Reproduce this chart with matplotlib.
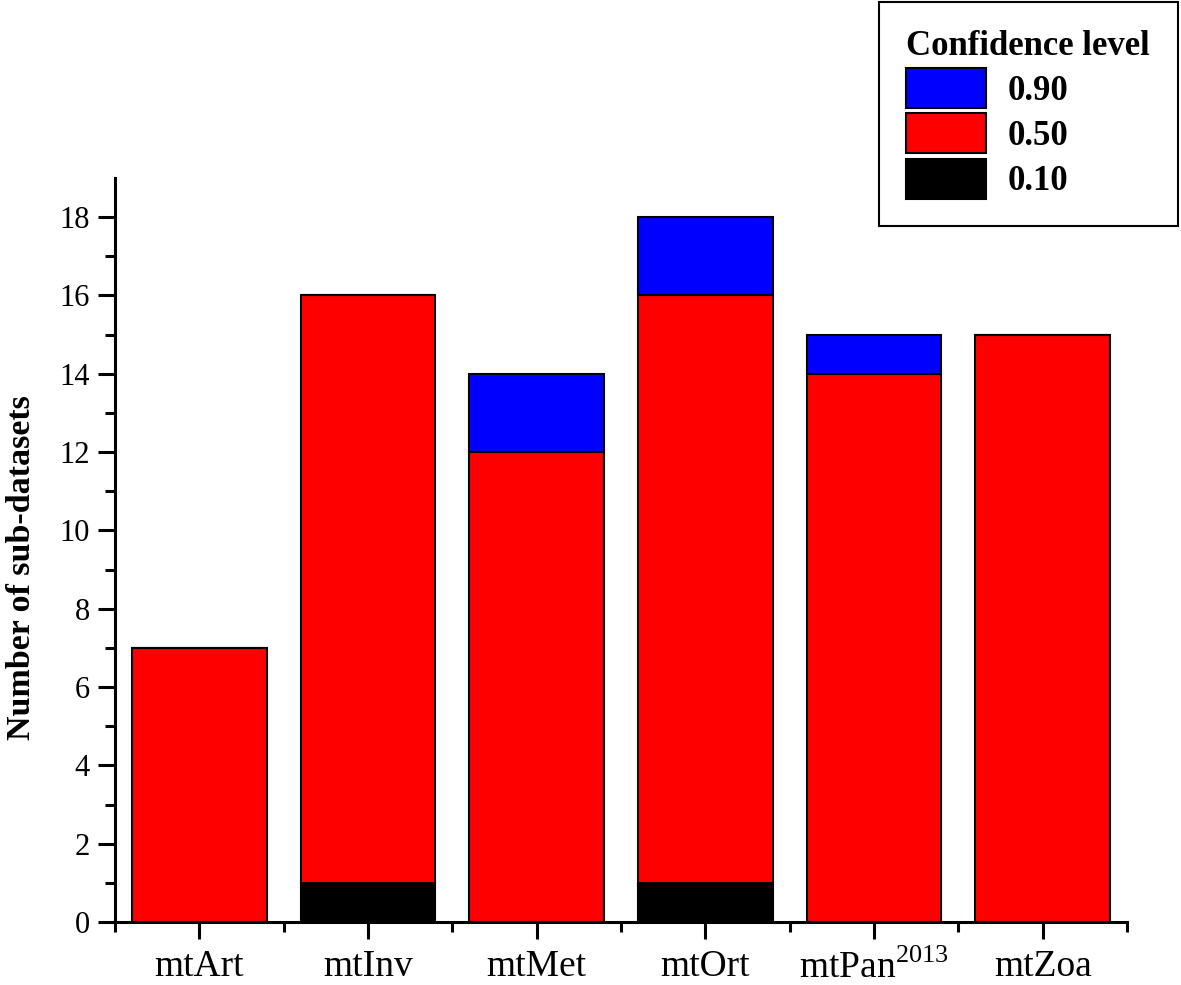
import numpy as np
import matplotlib.pyplot as plt

plt.rcParams['font.family'] = ['Liberation Serif', 'DejaVu Serif']
plt.rcParams['mathtext.fontset'] = 'custom'
plt.rcParams['mathtext.rm'] = 'Liberation Serif'

# ---------------------------------------------------------------------
# data
# ---------------------------------------------------------------------
categories = ['mtArt', 'mtInv', 'mtMet', 'mtOrt', 'mtPan$^{2013}$', 'mtZoa']
level_010 = [0, 1, 0, 1, 0, 0]      # black segment
level_050 = [7, 15, 12, 15, 14, 15] # red segment
level_090 = [0, 0, 2, 2, 1, 0]      # blue segment
y_ticks = [0, 2, 4, 6, 8, 10, 12, 14, 16, 18]

fig = plt.figure(figsize=(11.81, 9.85), dpi=100)
ax = fig.add_axes([115 / 1181, 63 / 985, 1012 / 1181, 744 / 985])

x = np.arange(len(categories))
w = 0.8
edge = dict(edgecolor='black', linewidth=1.5)
b010 = np.array(level_010)
b050 = b010 + np.array(level_050)

ax.bar(x, level_010, w, color='black', label='0.10', **edge)
ax.bar(x, level_050, w, bottom=b010, color='#ff0000', label='0.50', **edge)
ax.bar(x, level_090, w, bottom=b050, color='#0000ff', label='0.90', **edge)

ax.set_xlim(-0.5, len(categories) - 0.5)
ax.set_ylim(0, 19)
ax.set_xticks(x)
ax.set_xticklabels(categories)
ax.set_xticks(np.arange(-0.5, len(categories)), minor=True)
ax.set_yticks(y_ticks)
ax.set_yticks(np.arange(1, 19, 2), minor=True)

for s in ['top', 'right']:
    ax.spines[s].set_visible(False)
for s in ['left', 'bottom']:
    ax.spines[s].set_linewidth(2.2)

ax.tick_params(axis='both', which='major', direction='out', length=12, width=2.2)
ax.tick_params(axis='both', which='minor', direction='out', length=7, width=2.2)
ax.tick_params(axis='x', which='major', pad=8, labelsize=27)
ax.tick_params(axis='y', which='major', pad=6, labelsize=22)

ax.set_ylabel('Number of sub-datasets', fontsize=24.5, fontweight='bold')
ax.yaxis.set_label_coords(-0.077, 0.477)

handles, labels = ax.get_legend_handles_labels()
leg = fig.legend(handles[::-1], labels[::-1], title='Confidence level',
                 loc='upper right', bbox_to_anchor=(1178 / 1181, 983 / 985),
                 fancybox=False, edgecolor='black', framealpha=1,
                 prop={'size': 25, 'weight': 'bold'},
                 title_fontproperties={'size': 25, 'weight': 'bold'},
                 handlelength=2.3, handleheight=1.4, handletextpad=0.6,
                 labelspacing=0.15, borderpad=0.8, borderaxespad=0,
                 alignment='left')
leg.get_frame().set_linewidth(1.5)

fig.savefig('out.png', dpi=100)
